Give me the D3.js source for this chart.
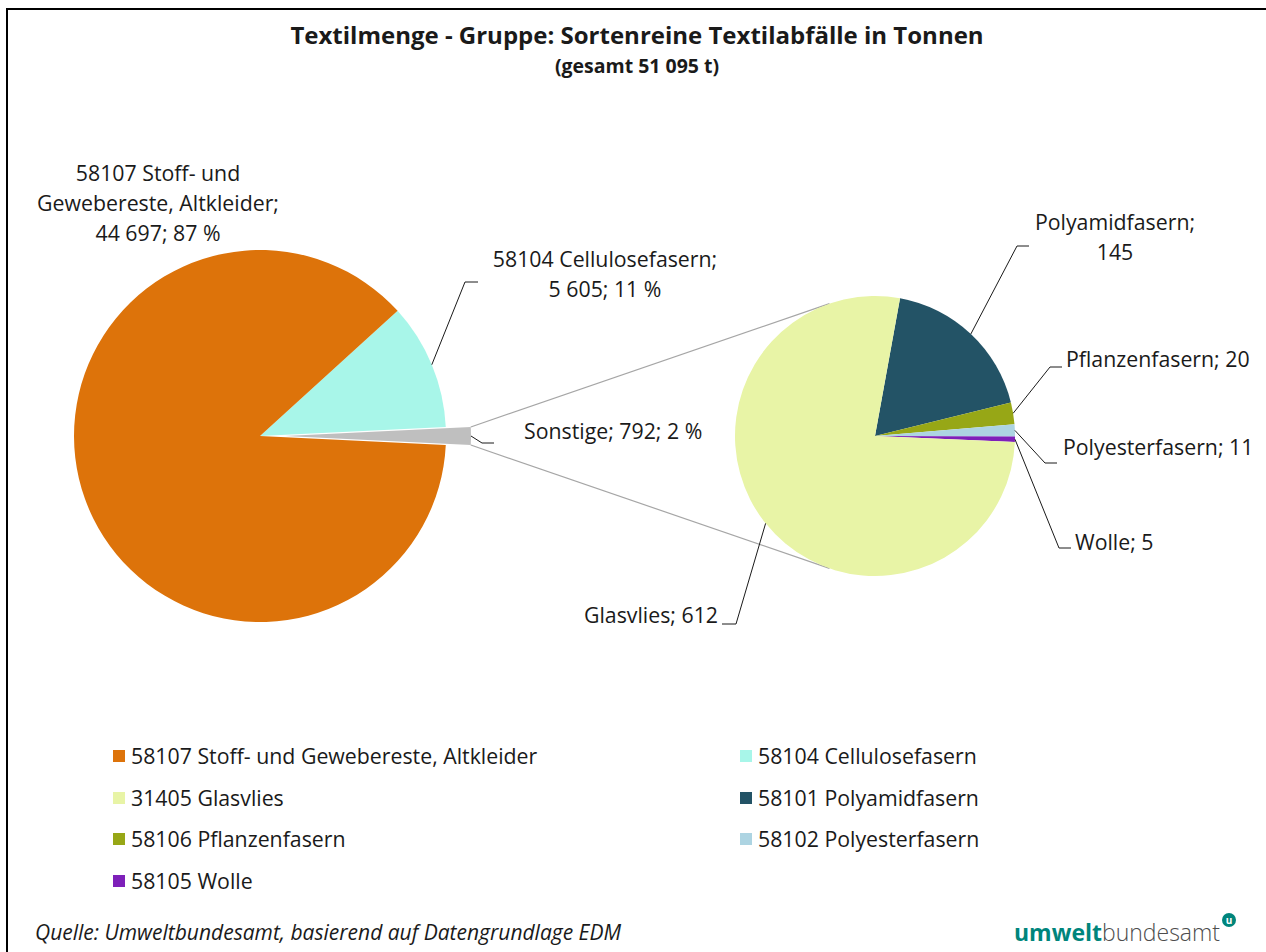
<!DOCTYPE html>
<html>
<head>
<meta charset="utf-8">
<script src="https://cdn.jsdelivr.net/npm/d3@7"></script>
<style>
body { margin: 0; background: #fff; }
text { font-family: "Open Sans", sans-serif; fill: #1a1a1a; }
</style>
</head>
<body>
<svg width="1266" height="952"></svg>
<script>
// main pie: clockwise order starting above 3 o'clock
var mainNames = ["58104 Cellulosefasern", "Sonstige", "58107 Stoff- und Gewebereste, Altkleider"];
var mainValues = [5605, 792, 44697];
var mainColors = ["#a8f6e9", "#bfbfbf", "#dd730a"];

// secondary pie (breakdown of "Sonstige")
var subNames = ["Polyamidfasern", "Pflanzenfasern", "Polyesterfasern", "Wolle", "Glasvlies"];
var subValues = [145, 20, 11, 5, 612];
var subColors = ["#235366", "#97a716", "#add4e2", "#7e20b9", "#e8f4a6"];

var legendOrder = ["58107 Stoff- und Gewebereste, Altkleider", "58104 Cellulosefasern",
  "31405 Glasvlies", "58101 Polyamidfasern", "58106 Pflanzenfasern", "58102 Polyesterfasern", "58105 Wolle"];
var legendColors = ["#dd730a", "#a8f6e9", "#e8f4a6", "#235366", "#97a716", "#add4e2", "#7e20b9"];

var totalText = "(gesamt 51 095 t)";

var de = d3.formatLocale({decimal: ",", thousands: " ", grouping: [3], currency: ["", " €"]});
var fmt = de.format(",d");

var svg = d3.select("svg");
var deg = Math.PI / 180;

// frame (top + left)
svg.append("rect").attr("x", 6).attr("y", 8).attr("width", 1262).attr("height", 2).attr("fill", "#000");
svg.append("rect").attr("x", 6).attr("y", 8).attr("width", 2).attr("height", 950).attr("fill", "#000");

// title
svg.append("text").attr("x", 637).attr("y", 44).attr("text-anchor", "middle")
  .style("font-size", "24px").style("font-weight", "bold").text("Textilmenge - Gruppe: Sortenreine Textilabfälle in Tonnen");
svg.append("text").attr("x", 637).attr("y", 73).attr("text-anchor", "middle")
  .style("font-size", "19.5px").style("font-weight", "bold").text(totalText);

// ---- main pie
var c1 = {x: 260, y: 436}, r1 = 186, explode = 25;
var mainTotal = d3.sum(mainValues);
var sonstA = mainValues[1] / mainTotal * 2 * Math.PI;
var cellA = mainValues[0] / mainTotal * 2 * Math.PI;
var start1 = Math.PI / 2 - sonstA / 2 - cellA;
var pie1 = d3.pie().sort(null).startAngle(start1).endAngle(start1 + 2 * Math.PI);
var arcs1 = pie1(mainValues);
var arc1 = d3.arc().innerRadius(0).outerRadius(r1);

var g1 = svg.append("g").attr("transform", "translate(" + c1.x + "," + c1.y + ")");
g1.selectAll("path").data(arcs1).enter().append("path")
  .attr("d", arc1)
  .attr("fill", function(d, i) { return mainColors[i]; })
  .attr("transform", function(d, i) {
    if (i != 1) return null;
    var m = (d.startAngle + d.endAngle) / 2;
    return "translate(" + (explode * Math.sin(m)) + "," + (-explode * Math.cos(m)) + ")";
  });

function pt(cx, cy, r, a) { return [cx + r * Math.sin(a), cy - r * Math.cos(a)]; }

// ---- secondary pie
var c2 = {x: 875, y: 436}, r2 = 140;
var pie2 = d3.pie().sort(null).startAngle(10.3 * deg).endAngle(10.3 * deg + 2 * Math.PI);
var arcs2 = pie2(subValues);
var arc2 = d3.arc().innerRadius(0).outerRadius(r2);

// connector lines from the exploded slice corners, tangent to second pie
var so = arcs1[1];
var sm = (so.startAngle + so.endAngle) / 2;
var ox = c1.x + explode * Math.sin(sm), oy = c1.y - explode * Math.cos(sm);
[so.startAngle, so.endAngle].forEach(function(a, k) {
  var p = pt(ox, oy, r1, a);
  var dx = c2.x - p[0], dy = c2.y - p[1];
  var d = Math.sqrt(dx * dx + dy * dy);
  var base = Math.atan2(p[1] - c2.y, p[0] - c2.x);
  var off = Math.acos(r2 / d) * (k == 0 ? 1 : -1);
  var tx = c2.x + r2 * Math.cos(base + off), ty = c2.y + r2 * Math.sin(base + off);
  svg.append("line").attr("x1", p[0]).attr("y1", p[1]).attr("x2", tx).attr("y2", ty)
    .attr("stroke", "#a6a6a6").attr("stroke-width", 1.2);
});

var g2 = svg.append("g").attr("transform", "translate(" + c2.x + "," + c2.y + ")");
g2.selectAll("path").data(arcs2).enter().append("path")
  .attr("d", arc2)
  .attr("fill", function(d, i) { return subColors[i]; });

// ---- data labels
function pct(v) { return Math.round(v / mainTotal * 100) + " %"; }
function leader(p, pts) {
  svg.append("path").attr("d", d3.line()([p].concat(pts)))
    .attr("fill", "none").attr("stroke", "#1a1a1a").attr("stroke-width", 1);
}
function label(x, y, lines, anchor) {
  var t = svg.append("text").attr("x", x).attr("y", y).attr("text-anchor", anchor || "middle")
    .style("font-size", "21.3px");
  lines.forEach(function(s, i) {
    t.append("tspan").attr("x", x).attr("dy", i ? 30 : 0).text(s);
  });
}
function mid(d) { return (d.startAngle + d.endAngle) / 2; }

label(158, 181, ["58107 Stoff- und", "Gewebereste, Altkleider;", fmt(mainValues[2]) + "; " + pct(mainValues[2])]);

label(605, 267, [mainNames[0] + ";", fmt(mainValues[0]) + "; " + pct(mainValues[0])]);
leader(pt(c1.x, c1.y, r1, mid(arcs1[0])), [[465, 282], [478, 282]]);

label(524, 439, [mainNames[1] + "; " + fmt(mainValues[1]) + "; " + pct(mainValues[1])], "start");
leader(pt(ox, oy, r1, sm), [[482, 443], [494, 443]]);

label(1115, 230, [subNames[0] + ";", fmt(subValues[0])]);
leader(pt(c2.x, c2.y, r2, mid(arcs2[0])), [[1017, 246], [1029, 246]]);

label(1066, 367, [subNames[1] + "; " + subValues[1]], "start");
leader(pt(c2.x, c2.y, r2, mid(arcs2[1])), [[1050, 367], [1062, 367]]);

label(1063, 455, [subNames[2] + "; " + subValues[2]], "start");
leader(pt(c2.x, c2.y, r2, mid(arcs2[2])), [[1045, 463], [1057, 463]]);

label(1075, 550, [subNames[3] + "; " + subValues[3]], "start");
leader(pt(c2.x, c2.y, r2, mid(arcs2[3])), [[1059, 548], [1071, 548]]);

label(718, 623, [subNames[4] + "; " + subValues[4]], "end");
leader(pt(c2.x, c2.y, r2, mid(arcs2[4])), [[736, 624], [722, 624]]);

// ---- legend
var legX = [113, 740], legY = [756, 798, 839, 881];
var lg = svg.append("g").selectAll("g").data(legendOrder).enter().append("g")
  .attr("transform", function(d, i) { return "translate(" + legX[i % 2] + "," + legY[Math.floor(i / 2)] + ")"; });
lg.append("rect").attr("x", 0).attr("y", -6).attr("width", 12).attr("height", 12)
  .attr("fill", function(d, i) { return legendColors[i]; });
lg.append("text").attr("x", 18).attr("y", 7.5).style("font-size", "21.3px").text(function(d) { return d; });

// ---- footer
svg.append("text").attr("x", 35).attr("y", 940).style("font-size", "21px").style("font-style", "italic")
  .text("Quelle: Umweltbundesamt, basierend auf Datengrundlage EDM");

var logo = svg.append("text").attr("x", 1014).attr("y", 941).style("font-size", "23px");
logo.append("tspan").style("font-weight", "bold").style("fill", "#00857c").text("umwelt");
logo.append("tspan").style("fill", "#4d4d4d").style("font-weight", "300").text("bundesamt");
svg.append("circle").attr("cx", 1229).attr("cy", 920).attr("r", 7).attr("fill", "#00857c");
svg.append("text").attr("x", 1229).attr("y", 923.5).attr("text-anchor", "middle")
  .style("font-size", "10px").style("font-weight", "bold").style("fill", "#fff").text("u");
</script>
</body>
</html>
